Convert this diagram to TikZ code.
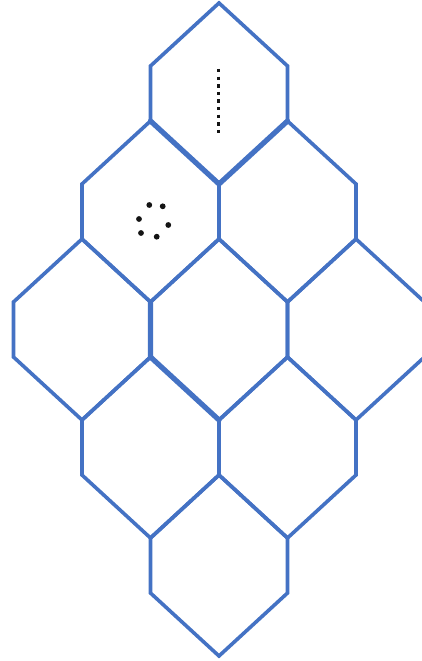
\documentclass[tikz,border=0pt]{standalone}
\definecolor{hexblue}{RGB}{68,114,196}
\definecolor{dotcol}{RGB}{20,20,20}
\tikzset{
  hexline/.style={draw=hexblue, line width=3.6pt, line join=miter},
  thickedge/.style={draw=hexblue, line width=5.2pt, line cap=round},
  dotline/.style={draw=dotcol, line width=3pt, dash pattern=on 3.4pt off 4.2pt},
  ringdot/.style={fill=dotcol, draw=none}
}
\newcommand{\hexcell}[2]{% center x, apex y
  \draw[hexline] (#1,#2) -- ({#1+68.5},{#2+63}) -- ({#1+68.5},{#2+118})
    -- (#1,{#2+181}) -- ({#1-68.5},{#2+118}) -- ({#1-68.5},{#2+63}) -- cycle;}
\begin{document}
\begin{tikzpicture}[x=1pt,y=-1pt]
\useasboundingbox (0,0) rectangle (422,661);
\clip (0,0) rectangle (422,661);
\fill[white] (0,0) rectangle (422,661);
% row 0
\hexcell{219}{3}
% row 1
\hexcell{150.5}{121}
\hexcell{287.5}{121}
% row 2
\hexcell{82}{239}
\hexcell{219}{239}
\hexcell{356}{239}
% row 3
\hexcell{150.5}{357}
\hexcell{287.5}{357}
% row 4
\hexcell{219}{475}
% thicker edges
\draw[thickedge] (150.5,121) -- (219,184) -- (287.5,121);
\draw[thickedge] (150.5,302) -- (150.5,357) -- (219,420);
\draw[hexline, line width=4.4pt] (219,420) -- (219,475);
% dotted vertical line
\coordinate (dtop) at (218,69);
\coordinate (dbot) at (218,136);
\draw[dotline] (dtop) -- (dbot);
% ring of dots
\foreach \px/\py in {149.3/205, 162.7/206.3, 139/219, 168.3/225, 141/233, 156.7/236.7}
  \fill[ringdot] (\px,\py) circle (2.9pt);
\end{tikzpicture}
\end{document}
